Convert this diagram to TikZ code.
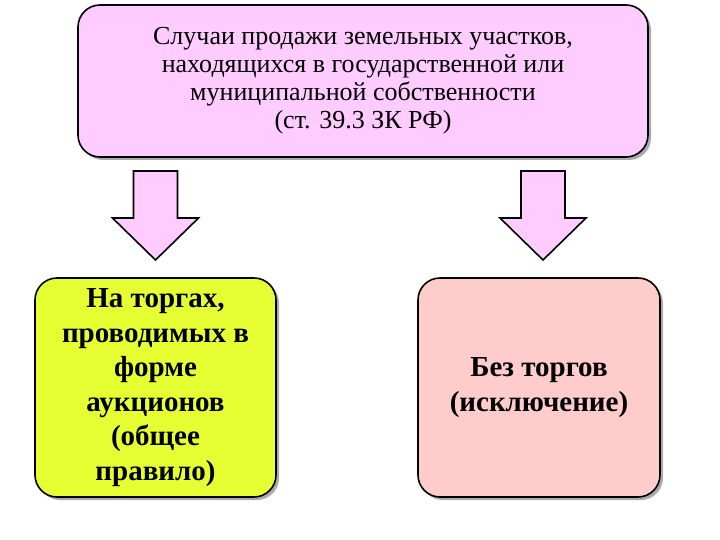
\documentclass[tikz,border=0pt]{standalone}
\usepackage{fontspec}
\setmainfont{Liberation Serif}
\definecolor{toppink}{RGB}{255,204,255}
\definecolor{lime}{RGB}{230,255,51}
\definecolor{rosy}{RGB}{255,204,204}
\begin{document}
\begin{tikzpicture}[x=1pt,y=-1pt,
  box/.style={draw=black,line width=1.6pt,rounded corners=22pt,align=center,inner sep=0pt},
  shadowed/.style={preaction={fill=black!55,opacity=0.6,transform canvas={shift={(3pt,-3pt)}}}},
  arr/.style={draw=black,line width=1.6pt,fill=toppink,line join=miter}]
\useasboundingbox (0,0) rectangle (720,540);
\fill[white] (0,0) rectangle (720,540);
\node[box,shadowed,fill=toppink,minimum width=570pt,minimum height=152pt,font=\fontsize{26}{28}\selectfont] (top) at (363,81)
 {Случаи продажи земельных участков,\\ находящихся в государственной или\\ муниципальной собственности\\ (ст. 39.3 ЗК РФ)};
\node[box,shadowed,fill=lime,minimum width=241pt,minimum height=219pt,font=\bfseries\fontsize{29}{34.5}\selectfont] (left) at (155.5,387.5)
 {На торгах,\\ проводимых в\\ форме\\ аукционов\\ (общее\\ правило)};
\node[box,shadowed,fill=rosy,minimum width=242pt,minimum height=219pt,font=\bfseries\fontsize{29}{34.5}\selectfont] (right) at (539,387.5)
 {Без торгов\\ (исключение)};
\foreach \c/\n in {155.5/la,543/ra}{
  \draw[arr] (\c-22,171) -- (\c+22,171) -- (\c+22,218) -- (\c+43,218) -- (\c,260) -- (\c-43,218) -- (\c-22,218) -- cycle;
  \coordinate (\n) at (\c,260);
}
\end{tikzpicture}
\end{document}
